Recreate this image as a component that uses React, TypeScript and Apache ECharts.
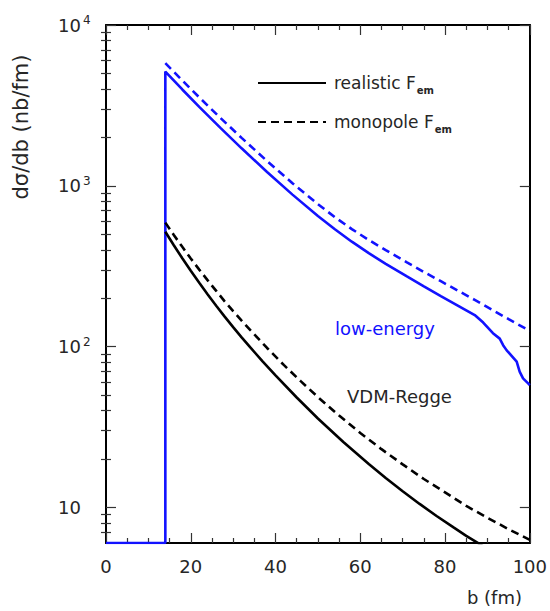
import React, { useEffect, useRef } from 'react';
import * as echarts from 'echarts';

// b (fm) grid and dσ/db (nb/fm) values
const bLowRealistic = [0, 14, 14, 18, 22, 27, 32, 38, 44, 50, 54, 58, 62, 66, 71, 75, 79, 83, 87, 89, 91.3, 92.9, 93.7, 94.5, 96.9, 97.6, 98.4, 99.6, 100];
const lowRealistic = [6, 6, 5129, 3972, 3097, 2291, 1710, 1219, 881, 649, 536, 449, 381, 327, 273, 237, 206, 180, 157, 141, 121, 112, 102, 95, 80.5, 69.8, 63.4, 59, 57.5];

const bLowMonopole = [14, 18, 22, 27, 32, 38, 44, 50, 54, 58, 62, 66, 71, 75, 79, 83, 87, 91, 95, 100];
const lowMonopole = [5794, 4519, 3548, 2642, 1986, 1426, 1038, 769, 638, 538, 460, 398, 334, 291, 255, 223, 195, 170, 148, 125];

const bVdmRealistic = [14, 16, 18, 20, 22, 24, 26, 28, 30, 32, 34, 37, 40, 45, 50, 56, 62, 66, 70, 74, 78, 82, 85, 88, 92, 96, 100];
const vdmRealistic = [518, 427, 354, 296, 249, 211, 179.5, 153.5, 132, 114, 99.1, 80.7, 66.2, 48.2, 35.7, 25.5, 18.6, 15.2, 12.6, 10.5, 8.83, 7.5, 6.65, 5.94, 5.09, 4.37, 3.76];

const bVdmMonopole = [14, 16, 18, 20, 22, 24, 26, 28, 30, 32, 34, 38, 42, 46, 50, 55, 60, 65, 70, 75, 80, 85, 90, 95, 100];
const vdmMonopole = [590, 494, 417, 353, 301, 258, 222, 191, 166, 145, 127, 98, 76.6, 60.7, 48.5, 37.2, 29.0, 23.0, 18.5, 15.0, 12.4, 10.2, 8.61, 7.31, 6.27];

const yMajorTicks = [10, 100, 1000, 10000];
const yMinorTicks = [7, 8, 9, 20, 30, 40, 50, 60, 70, 80, 90, 200, 300, 400, 500, 600, 700, 800, 900, 2000, 3000, 4000, 5000, 6000, 7000, 8000, 9000];

const legendNames = ['realistic Fem', 'monopole Fem'];
const yTitle = 'dσ/db (nb/fm)';
const xTitle = 'b (fm)';
const lowLabel = 'low-energy';
const vdmLabel = 'VDM-Regge';

const FONT = 'DejaVu Sans';
const TXT = '#262626';
const BLUE = '#1212ff';

const zip = (xs: number[], ys: number[]) => xs.map((x, i) => [x, ys[i]]);

export default function App() {
  const ref = useRef<HTMLDivElement>(null);
  useEffect(() => {
    document.body.style.margin = '0';
    if (!ref.current) return;
    const chart = echarts.init(ref.current, null, { renderer: 'svg' });

    const yBase: any = {
      type: 'log', logBase: 10, min: 6, max: 10000,
      splitLine: { show: false },
    };
    const axisLineStyle = { show: true, onZero: false, lineStyle: { color: '#000', width: 2 } };
    const tickStyle = { color: '#333', width: 1.2 };

    const xBase: any = {
      type: 'value', min: 0, max: 100, interval: 20,
      splitLine: { show: false },
      axisLine: axisLineStyle,
      axisTick: { inside: true, length: 10, lineStyle: tickStyle },
      minorTick: { show: true, splitNumber: 4, length: 5, lineStyle: tickStyle },
    };

    const option: any = {
      animation: false,
      grid: { left: 106, top: 25, width: 424, height: 518, containLabel: false },
      xAxis: [
        {
          ...xBase, position: 'bottom',
          axisLabel: { margin: 14, fontFamily: FONT, fontSize: 18, color: TXT },
        },
        { ...xBase, position: 'top', axisLabel: { show: false } },
      ],
      yAxis: [
        {
          ...yBase, position: 'left',
          axisLine: axisLineStyle,
          axisTick: { inside: true, length: 10, customValues: yMajorTicks, lineStyle: tickStyle },
          axisLabel: {
            customValues: yMajorTicks,
            margin: 48, align: 'left',
            formatter: (v: number) => {
              const e = Math.round(Math.log10(v));
              return e === 1 ? '{base|10}' : `{base|10}{sup|${e}}`;
            },
            rich: {
              base: { fontFamily: FONT, fontSize: 18, color: TXT, lineHeight: 22 },
              sup: { fontFamily: FONT, fontSize: 12, color: TXT, lineHeight: 12, verticalAlign: 'top', padding: [0, 0, 0, 2] },
            },
          },
        },
        {
          ...yBase, position: 'left',
          axisLine: { show: false },
          axisTick: { inside: true, length: 5, customValues: yMinorTicks, lineStyle: tickStyle },
          axisLabel: { show: false },
        },
        {
          ...yBase, position: 'right',
          axisLine: axisLineStyle,
          axisTick: { inside: true, length: 10, customValues: yMajorTicks, lineStyle: tickStyle },
          axisLabel: { show: false },
        },
        {
          ...yBase, position: 'right',
          axisLine: { show: false },
          axisTick: { inside: true, length: 5, customValues: yMinorTicks, lineStyle: tickStyle },
          axisLabel: { show: false },
        },
      ],
      legend: {
        data: legendNames,
        orient: 'vertical', left: 257, top: 70, padding: 0,
        itemWidth: 68, itemHeight: 26, itemGap: 13,
        selectedMode: false,
        itemStyle: { opacity: 0 },
        formatter: (n: string) => n.replace('Fem', 'F{sub|em}'),
        textStyle: {
          fontFamily: FONT, fontSize: 17, color: TXT, lineHeight: 26, padding: [0, 0, 0, 3],
          rich: {
            sub: { fontFamily: FONT, fontSize: 10, fontWeight: 'bold', color: TXT, lineHeight: 12, padding: [14, 0, 0, 1] },
          },
        },
      },
      graphic: [
        {
          type: 'text', x: 21, y: 127, rotation: Math.PI / 2,
          style: { text: yTitle, fontFamily: FONT, fontSize: 21, fill: TXT, align: 'center', verticalAlign: 'middle' },
        },
        {
          type: 'text', x: 522, y: 597,
          style: { text: xTitle, fontFamily: FONT, fontSize: 18, fill: TXT, align: 'right', verticalAlign: 'middle' },
        },
        {
          type: 'text', x: 335, y: 328,
          style: { text: lowLabel, fontFamily: FONT, fontSize: 18, fill: BLUE, align: 'left', verticalAlign: 'middle' },
        },
        {
          type: 'text', x: 347, y: 396,
          style: { text: vdmLabel, fontFamily: FONT, fontSize: 18, fill: TXT, align: 'left', verticalAlign: 'middle' },
        },
      ],
      series: [
        {
          name: 'low-energy realistic', type: 'line', symbol: 'none',
          data: zip(bLowRealistic, lowRealistic),
          lineStyle: { color: BLUE, width: 2.6 }, itemStyle: { color: BLUE }, z: 3,
        },
        {
          name: 'low-energy monopole', type: 'line', symbol: 'none',
          data: zip(bLowMonopole, lowMonopole),
          lineStyle: { color: BLUE, width: 2.6, type: [8, 5] }, itemStyle: { color: BLUE },
        },
        {
          name: 'VDM-Regge realistic', type: 'line', symbol: 'none',
          data: zip(bVdmRealistic, vdmRealistic),
          lineStyle: { color: '#000', width: 2.6 }, itemStyle: { color: '#000' },
        },
        {
          name: 'VDM-Regge monopole', type: 'line', symbol: 'none',
          data: zip(bVdmMonopole, vdmMonopole),
          lineStyle: { color: '#000', width: 2.6, type: [8, 5] }, itemStyle: { color: '#000' },
        },
        {
          name: legendNames[0], type: 'line', symbol: 'none', symbolSize: 0, data: [],
          lineStyle: { color: '#000', width: 2.6 }, itemStyle: { color: '#000' },
        },
        {
          name: legendNames[1], type: 'line', symbol: 'none', symbolSize: 0, data: [],
          lineStyle: { color: '#000', width: 2.6, type: [8, 5] }, itemStyle: { color: '#000' },
        },
      ],
    };
    chart.setOption(option);
    return () => chart.dispose();
  }, []);
  return <div ref={ref} style={{ width: 550, height: 611 }} />;
}
